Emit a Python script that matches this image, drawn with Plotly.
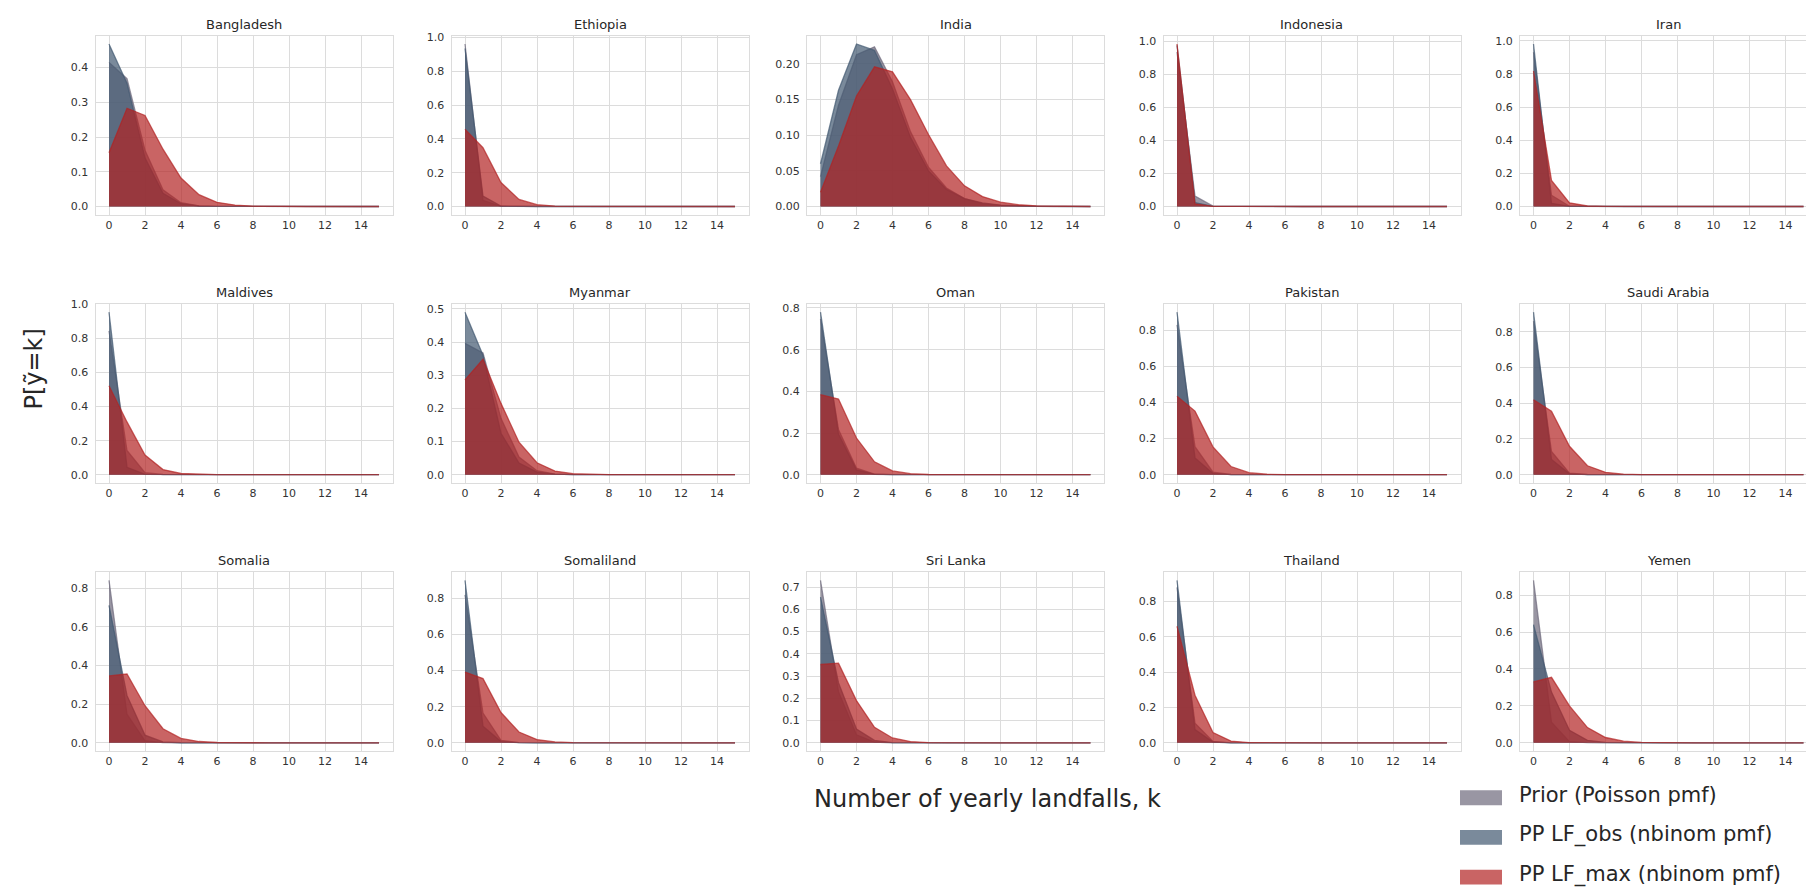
import plotly.graph_objects as go

W, H = 1814, 890

k_values = list(range(16))
x_tick_values = [0, 2, 4, 6, 8, 10, 12, 14]

countries = ["Bangladesh", "Ethiopia", "India", "Indonesia", "Iran",
             "Maldives", "Myanmar", "Oman", "Pakistan", "Saudi Arabia",
             "Somalia", "Somaliland", "Sri Lanka", "Thailand", "Yemen"]

series_names = ["Prior (Poisson pmf)", "PP LF_obs (nbinom pmf)", "PP LF_max (nbinom pmf)"]

prior_pmf = {
    "Bangladesh":   [0.415, 0.368, 0.162, 0.048, 0.011, 0.002, 0.0003, 0, 0, 0, 0, 0, 0, 0, 0, 0],
    "Ethiopia":     [0.962, 0.037, 0.001, 0, 0, 0, 0, 0, 0, 0, 0, 0, 0, 0, 0, 0],
    "India":        [0.042, 0.142, 0.213, 0.224, 0.175, 0.105, 0.055, 0.026, 0.011, 0.004, 0.0015, 0.0005, 0.0002, 0, 0, 0],
    "Indonesia":    [0.935, 0.063, 0.002, 0, 0, 0, 0, 0, 0, 0, 0, 0, 0, 0, 0, 0],
    "Iran":         [0.930, 0.068, 0.002, 0, 0, 0, 0, 0, 0, 0, 0, 0, 0, 0, 0, 0],
    "Maldives":     [0.845, 0.142, 0.012, 0.001, 0, 0, 0, 0, 0, 0, 0, 0, 0, 0, 0, 0],
    "Myanmar":      [0.396, 0.367, 0.170, 0.053, 0.012, 0.002, 0.0003, 0, 0, 0, 0, 0, 0, 0, 0, 0],
    "Oman":         [0.748, 0.217, 0.031, 0.003, 0.0002, 0, 0, 0, 0, 0, 0, 0, 0, 0, 0, 0],
    "Pakistan":     [0.830, 0.155, 0.014, 0.001, 0, 0, 0, 0, 0, 0, 0, 0, 0, 0, 0, 0],
    "Saudi Arabia": [0.860, 0.130, 0.009, 0.001, 0, 0, 0, 0, 0, 0, 0, 0, 0, 0, 0, 0],
    "Somalia":      [0.840, 0.148, 0.011, 0.001, 0, 0, 0, 0, 0, 0, 0, 0, 0, 0, 0, 0],
    "Somaliland":   [0.820, 0.165, 0.014, 0.001, 0, 0, 0, 0, 0, 0, 0, 0, 0, 0, 0, 0],
    "Sri Lanka":    [0.730, 0.230, 0.036, 0.004, 0.0003, 0, 0, 0, 0, 0, 0, 0, 0, 0, 0, 0],
    "Thailand":     [0.880, 0.112, 0.008, 0.0005, 0, 0, 0, 0, 0, 0, 0, 0, 0, 0, 0, 0],
    "Yemen":        [0.880, 0.112, 0.007, 0.001, 0, 0, 0, 0, 0, 0, 0, 0, 0, 0, 0, 0],
}

lf_obs_pmf = {
    "Bangladesh":   [0.468, 0.355, 0.140, 0.038, 0.008, 0.0015, 0.0003, 0, 0, 0, 0, 0, 0, 0, 0, 0],
    "Ethiopia":     [0.935, 0.062, 0.003, 0, 0, 0, 0, 0, 0, 0, 0, 0, 0, 0, 0, 0],
    "India":        [0.060, 0.163, 0.228, 0.219, 0.165, 0.097, 0.050, 0.024, 0.011, 0.005, 0.002, 0.001, 0.0003, 0.0001, 0, 0],
    "Indonesia":    [0.975, 0.024, 0.001, 0, 0, 0, 0, 0, 0, 0, 0, 0, 0, 0, 0, 0],
    "Iran":         [0.980, 0.019, 0.001, 0, 0, 0, 0, 0, 0, 0, 0, 0, 0, 0, 0, 0],
    "Maldives":     [0.955, 0.043, 0.002, 0, 0, 0, 0, 0, 0, 0, 0, 0, 0, 0, 0, 0],
    "Myanmar":      [0.490, 0.360, 0.125, 0.035, 0.008, 0.0015, 0.0003, 0, 0, 0, 0, 0, 0, 0, 0, 0],
    "Oman":         [0.780, 0.195, 0.023, 0.002, 0, 0, 0, 0, 0, 0, 0, 0, 0, 0, 0, 0],
    "Pakistan":     [0.900, 0.093, 0.007, 0, 0, 0, 0, 0, 0, 0, 0, 0, 0, 0, 0, 0],
    "Saudi Arabia": [0.910, 0.085, 0.005, 0, 0, 0, 0, 0, 0, 0, 0, 0, 0, 0, 0, 0],
    "Somalia":      [0.711, 0.245, 0.040, 0.005, 0.0006, 0, 0, 0, 0, 0, 0, 0, 0, 0, 0, 0],
    "Somaliland":   [0.900, 0.092, 0.007, 0.001, 0, 0, 0, 0, 0, 0, 0, 0, 0, 0, 0, 0],
    "Sri Lanka":    [0.655, 0.270, 0.062, 0.011, 0.0015, 0.0002, 0, 0, 0, 0, 0, 0, 0, 0, 0, 0],
    "Thailand":     [0.920, 0.075, 0.005, 0, 0, 0, 0, 0, 0, 0, 0, 0, 0, 0, 0, 0],
    "Yemen":        [0.640, 0.275, 0.068, 0.014, 0.0025, 0.0004, 0, 0, 0, 0, 0, 0, 0, 0, 0, 0],
}

lf_max_pmf = {
    "Bangladesh":   [0.155, 0.283, 0.262, 0.165, 0.082, 0.034, 0.012, 0.004, 0.0013, 0.0004, 0.0001, 0, 0, 0, 0, 0],
    "Ethiopia":     [0.457, 0.348, 0.142, 0.042, 0.011, 0.0025, 0.0005, 0.0001, 0, 0, 0, 0, 0, 0, 0, 0],
    "India":        [0.020, 0.085, 0.155, 0.196, 0.189, 0.150, 0.101, 0.057, 0.029, 0.014, 0.006, 0.0025, 0.001, 0.0004, 0.0001, 0],
    "Indonesia":    [0.983, 0.016, 0.001, 0, 0, 0, 0, 0, 0, 0, 0, 0, 0, 0, 0, 0],
    "Iran":         [0.817, 0.157, 0.022, 0.003, 0.0005, 0, 0, 0, 0, 0, 0, 0, 0, 0, 0, 0],
    "Maldives":     [0.523, 0.310, 0.115, 0.030, 0.007, 0.0015, 0.0003, 0, 0, 0, 0, 0, 0, 0, 0, 0],
    "Myanmar":      [0.286, 0.348, 0.215, 0.098, 0.036, 0.011, 0.003, 0.0008, 0.0002, 0, 0, 0, 0, 0, 0, 0],
    "Oman":         [0.384, 0.363, 0.176, 0.062, 0.018, 0.005, 0.001, 0.0003, 0, 0, 0, 0, 0, 0, 0, 0],
    "Pakistan":     [0.435, 0.352, 0.154, 0.045, 0.011, 0.0025, 0.0005, 0, 0, 0, 0, 0, 0, 0, 0, 0],
    "Saudi Arabia": [0.420, 0.355, 0.159, 0.050, 0.013, 0.003, 0.0006, 0, 0, 0, 0, 0, 0, 0, 0, 0],
    "Somalia":      [0.346, 0.356, 0.192, 0.073, 0.023, 0.007, 0.002, 0.0005, 0, 0, 0, 0, 0, 0, 0, 0],
    "Somaliland":   [0.392, 0.356, 0.168, 0.060, 0.018, 0.005, 0.001, 0.0003, 0, 0, 0, 0, 0, 0, 0, 0],
    "Sri Lanka":    [0.352, 0.358, 0.190, 0.070, 0.022, 0.006, 0.0015, 0.0003, 0, 0, 0, 0, 0, 0, 0, 0],
    "Thailand":     [0.660, 0.270, 0.058, 0.010, 0.0015, 0.0002, 0, 0, 0, 0, 0, 0, 0, 0, 0, 0],
    "Yemen":        [0.330, 0.355, 0.200, 0.083, 0.029, 0.009, 0.0025, 0.0006, 0.0001, 0, 0, 0, 0, 0, 0, 0],
}

y_tick_step = {
    "Bangladesh": 0.1, "Ethiopia": 0.2, "India": 0.05, "Indonesia": 0.2, "Iran": 0.2,
    "Maldives": 0.2, "Myanmar": 0.1, "Oman": 0.2, "Pakistan": 0.2, "Saudi Arabia": 0.2,
    "Somalia": 0.2, "Somaliland": 0.2, "Sri Lanka": 0.1, "Thailand": 0.2, "Yemen": 0.2,
}
y_tick_format = {c: ".1f" for c in countries}
y_tick_format["India"] = ".2f"

for d in (prior_pmf, lf_obs_pmf, lf_max_pmf):
    for c in countries:
        assert len(d[c]) == len(k_values), c

# ---- styling ----
base_rgb = [(109, 105, 124), (65, 88, 112), (178, 34, 34)]
ALPHA = 0.7
rgba = ["rgba(%d,%d,%d,%.2f)" % (r, g, b, ALPHA) for (r, g, b) in base_rgb]
FONT = "DejaVu Sans"
GRID = "#dcdcdc"
TXT = "#333333"

col_left_px = [87.5, 443.5, 799.0, 1155.5, 1512.0]
panel_w_px = 297.0
row_top_px = [22.0, 292.0, 562.0]
panel_h_px = 180.0

fig = go.Figure()
annotations = []
layout_axes = {}

for i, c in enumerate(countries):
    r, col = divmod(i, 5)
    n = i + 1
    xa = "x" if n == 1 else "x%d" % n
    ya = "y" if n == 1 else "y%d" % n
    series = [prior_pmf[c], lf_obs_pmf[c], lf_max_pmf[c]]
    for name, vals, colr in zip(series_names, series, rgba):
        fig.add_trace(go.Scatter(
            x=k_values, y=vals, mode="lines", fill="tozeroy",
            fillcolor=colr, line=dict(color=colr, width=1.3),
            name=name, legendgroup=name, showlegend=False,
            xaxis=xa, yaxis=ya, hoverinfo="skip"))
    M = max(max(s) for s in series)
    x0 = col_left_px[col] / W
    x1 = (col_left_px[col] + panel_w_px) / W
    y1 = 1 - row_top_px[r] / H
    y0 = 1 - (row_top_px[r] + panel_h_px) / H
    layout_axes["xaxis" if n == 1 else "xaxis%d" % n] = dict(
        domain=[x0, x1], anchor=ya, range=[-0.75, 15.75],
        tickmode="array", tickvals=x_tick_values,
        showgrid=True, gridcolor=GRID, gridwidth=1.2, zeroline=False,
        showline=True, mirror=True, linecolor=GRID, linewidth=1.2,
        ticks="", tickfont=dict(family=FONT, size=11, color=TXT))
    layout_axes["yaxis" if n == 1 else "yaxis%d" % n] = dict(
        domain=[y0, y1], anchor=xa, range=[-0.05 * M, 1.05 * M],
        tick0=0, dtick=y_tick_step[c], tickformat=y_tick_format[c],
        showgrid=True, gridcolor=GRID, gridwidth=1.2, zeroline=False,
        showline=True, mirror=True, linecolor=GRID, linewidth=1.2,
        ticks="", ticklabelstandoff=4,
        tickfont=dict(family=FONT, size=11, color=TXT))
    annotations.append(dict(
        text=c, x=(x0 + x1) / 2, y=y1, xref="paper", yref="paper",
        xanchor="center", yanchor="bottom", yshift=2, showarrow=False,
        font=dict(family=FONT, size=13, color="#262626")))

# axis titles
annotations.append(dict(
    text="Number of yearly landfalls, k", x=979 / W, y=1 - 790 / H,
    xref="paper", yref="paper", xanchor="center", yanchor="middle",
    showarrow=False, font=dict(family=FONT, size=24, color="#262626")))
annotations.append(dict(
    text="P[ỹ=k]", x=26 / W, y=1 - 358 / H, textangle=-90,
    xref="paper", yref="paper", xanchor="center", yanchor="middle",
    showarrow=False, font=dict(family=FONT, size=24, color="#262626")))

# legend (patches + labels)
shapes = []
legend_rows_px = [789.0, 829.0, 869.0]
for name, colr, cy in zip(series_names, rgba, legend_rows_px):
    shapes.append(dict(
        type="rect", xref="paper", yref="paper",
        x0=1452 / W, x1=1494 / W, y0=1 - (cy + 7.5) / H, y1=1 - (cy - 7.5) / H,
        fillcolor=colr, line=dict(width=0)))
    annotations.append(dict(
        text=name, x=1509 / W, y=1 - (cy - 3) / H, xref="paper", yref="paper",
        xanchor="left", yanchor="middle", showarrow=False,
        font=dict(family=FONT, size=21, color="#262626")))

fig.update_layout(
    width=W, height=H,
    margin=dict(l=0, r=0, t=0, b=0),
    paper_bgcolor="white", plot_bgcolor="white",
    showlegend=False,
    annotations=annotations, shapes=shapes,
    font=dict(family=FONT),
    **layout_axes)

fig.write_html("out.html")
